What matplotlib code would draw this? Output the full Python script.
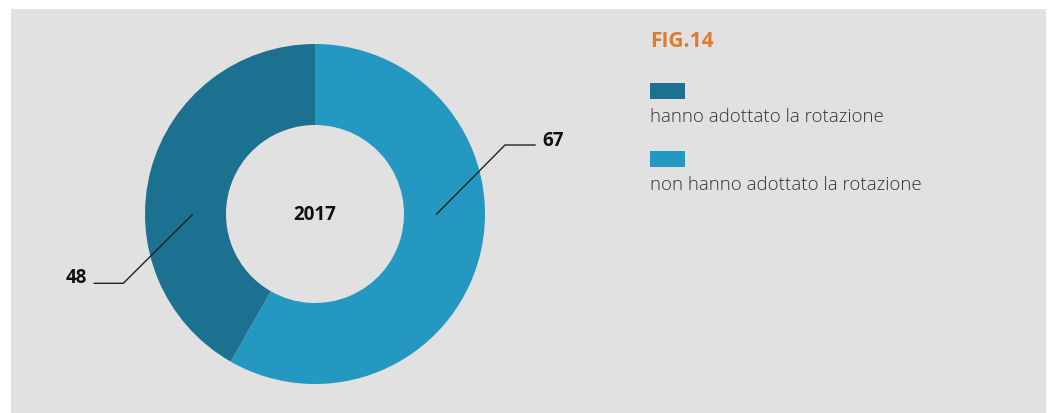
import matplotlib
matplotlib.use("Agg")
import matplotlib.pyplot as plt
from matplotlib.patches import Rectangle

# Data
categories = ["hanno adottato la rotazione", "non hanno adottato la rotazione"]
values = [48, 67]
year_label = "2017"
title = "FIG.14"

colors = ["#1d7190", "#2498c0"]
bg_panel = "#e1e1e1"

W, H = 1051, 414
fig = plt.figure(figsize=(W / 100, H / 100), dpi=100)
fig.patch.set_facecolor("white")
ax = fig.add_axes([0, 0, 1, 1])

# grey panel
ax.add_patch(Rectangle((11, 0), 1035, 404, facecolor=bg_panel, edgecolor="none", zorder=0))

# donut: light slice clockwise from top, dark slice fills the rest
cx, cy, r = 315, H - 215, 170
ax.pie([values[1], values[0]], colors=[colors[1], colors[0]],
       startangle=90, counterclock=False, center=(cx, cy), radius=r,
       wedgeprops=dict(width=r - 89, linewidth=0), frame=True)
ax.set_xlim(0, W)
ax.set_ylim(0, H)
ax.set_aspect("equal")
ax.axis("off")

ax.text(cx, cy, year_label, ha="center", va="center", fontsize=13.5,
        fontweight="bold", family="Open Sans", color="#111111")

# leader lines and value labels
ax.plot([436.7, 505, 535], [H - 215, H - 146, H - 146], color="#222222", lw=1.0)
ax.text(542, H - 141, str(values[1]), ha="left", va="center", fontsize=13.5,
        fontweight="bold", family="Open Sans", color="#111111")
ax.plot([192.3, 123.3, 94.3], [H - 215.7, H - 284.3, H - 284.3], color="#222222", lw=1.0)
ax.text(87, H - 278, str(values[0]), ha="right", va="center", fontsize=13.5,
        fontweight="bold", family="Open Sans", color="#111111")

# title and legend
ax.text(650, H - 47, title, ha="left", va="baseline", fontsize=15,
        fontweight="bold", family="Open Sans", color="#e07b2e")
sw_y = [84, 152]
txt_y = [122, 190]
for c, lab, sy, ty in zip(colors, categories, sw_y, txt_y):
    ax.add_patch(Rectangle((650, H - sy - 16), 35, 16, facecolor=c, edgecolor="none"))
    ax.text(650, H - ty, lab, ha="left", va="baseline", fontsize=13.45,
            fontweight="light", family="Open Sans", color="#333333")

fig.savefig("out.png", dpi=100, facecolor=fig.get_facecolor())
